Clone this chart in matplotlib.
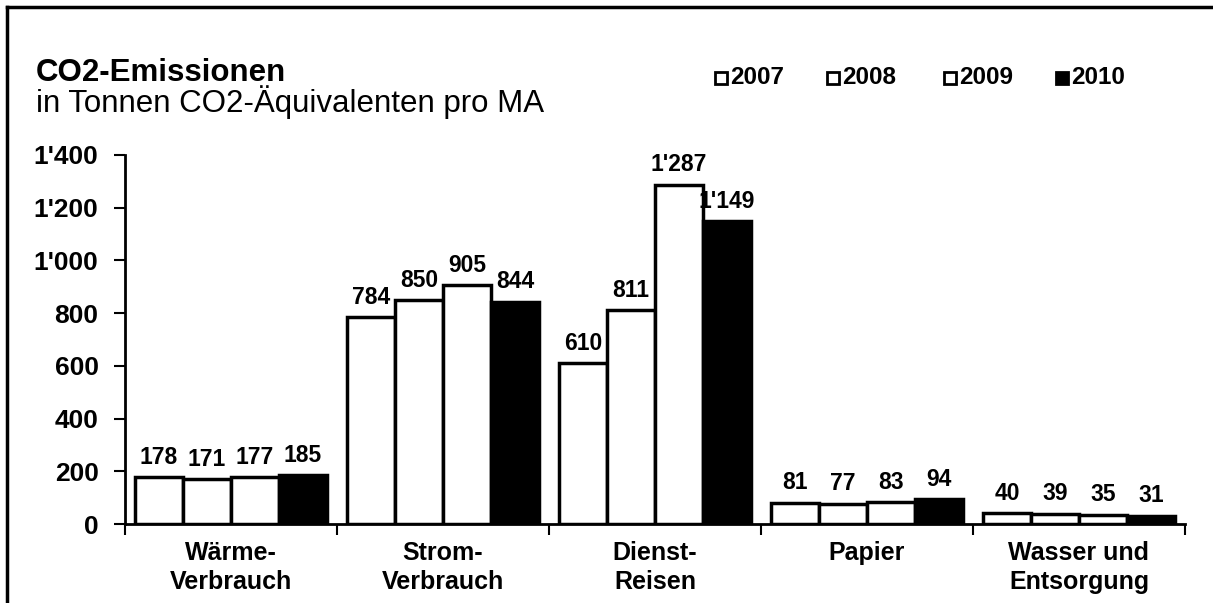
import matplotlib
matplotlib.use("Agg")
import matplotlib.pyplot as plt
from matplotlib.lines import Line2D
from matplotlib.patches import Rectangle
import numpy as np

categories = ["Wärme-\nVerbrauch", "Strom-\nVerbrauch", "Dienst-\nReisen", "Papier", "Wasser und\nEntsorgung"]
years = ["2007", "2008", "2009", "2010"]
v2007 = [178, 784, 610, 81, 40]
v2008 = [171, 850, 811, 77, 39]
v2009 = [177, 905, 1287, 83, 35]
v2010 = [185, 844, 1149, 94, 31]
series = [v2007, v2008, v2009, v2010]
fills = ["white", "white", "white", "black"]
yticks = [0, 200, 400, 600, 800, 1000, 1200, 1400]

W, H = 1213, 603
fig = plt.figure(figsize=(W / 100, H / 100), dpi=100)
plt.rcParams['font.family'] = ['Liberation Sans', 'DejaVu Sans']

def fx(px):
    return px / W

def fy(py):
    return 1 - py / H

left, right, top, bottom = 125, 1185, 155, 524
ax = fig.add_axes([fx(left), fy(bottom), fx(right - left), (bottom - top) / H])

def fmt(v):
    s = f"{v:,}"
    return s.replace(",", "'")

n = len(series)
bw = 0.2264
x = np.arange(len(categories))
for i, (vals, fc) in enumerate(zip(series, fills)):
    pos = x + (i - (n - 1) / 2) * bw
    ax.bar(pos, vals, width=bw, color=fc, edgecolor="black", linewidth=2.5, zorder=2)
    for xp, v in zip(pos, vals):
        ax.annotate(fmt(v), (xp, v), xytext=(0, 6), textcoords="offset points",
                    ha="center", va="bottom", fontsize=16.5, fontweight="bold")

ax.set_xlim(-0.5, len(categories) - 0.5)
ax.set_ylim(0, 1400)
ax.set_yticks(yticks)
ax.set_yticklabels([fmt(t) for t in yticks], fontsize=19, fontweight="bold")
ax.set_xticks(x)
ax.set_xticklabels(categories, fontsize=18, fontweight="bold", linespacing=1.3)
ax.set_xticks(np.arange(len(categories) + 1) - 0.5, minor=True)
ax.tick_params(axis="x", which="major", length=0, pad=12)
ax.tick_params(axis="x", which="minor", length=8, width=1.5, direction="out")
ax.tick_params(axis="y", which="major", length=8, width=1.5, direction="out", pad=11)
for s in ["top", "right"]:
    ax.spines[s].set_visible(False)
for s in ["left", "bottom"]:
    ax.spines[s].set_linewidth(2)

# titles
fig.text(fx(36), fy(73), "CO2-Emissionen", fontsize=22.5, fontweight="bold", va="center", ha="left")
fig.text(fx(36), fy(102), "in Tonnen CO2-Äquivalenten pro MA", fontsize=22.5, va="center", ha="left")

# legend
leg_sq = [715, 827, 944, 1056]
ly = 78
for xs, yr, fc in zip(leg_sq, years, fills):
    fig.add_artist(Rectangle((fx(xs), fy(ly + 6)), 12 / W, 12 / H, facecolor=fc,
                             edgecolor="black", linewidth=2, transform=fig.transFigure))
    fig.text(fx(xs + 15), fy(ly), yr, fontsize=17.5, fontweight="bold", va="center", ha="left")

# outer frame
fig.add_artist(Line2D([fx(7), fx(7)], [fy(7), 0], color="black", linewidth=2.5, transform=fig.transFigure))
fig.add_artist(Line2D([fx(7), 1], [fy(7), fy(7)], color="black", linewidth=2.5, transform=fig.transFigure))

fig.savefig("out.png", dpi=100)
